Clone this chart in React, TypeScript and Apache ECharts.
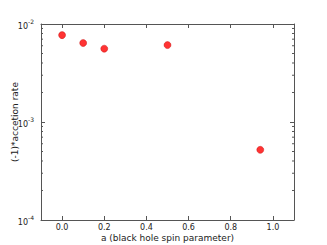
import React, { useEffect, useRef } from "react";
import * as echarts from "echarts";

const spin = [0.0, 0.1, 0.2, 0.5, 0.94];
const rate = [0.0077, 0.0064, 0.0056, 0.0061, 0.00052];
const xTicks = [0.0, 0.2, 0.4, 0.6, 0.8, 1.0];
const minorY = [2e-4, 3e-4, 4e-4, 5e-4, 6e-4, 7e-4, 8e-4, 9e-4, 2e-3, 3e-3, 4e-3, 5e-3, 6e-3, 7e-3, 8e-3, 9e-3];

const XMIN = -0.1;
const XMAX = 1.1;
const FONT = "DejaVu Sans";
const AX = "#555";
const TXT = "#222";

export default function App() {
  const ref = useRef<HTMLDivElement>(null);
  useEffect(() => {
    const chart = echarts.init(ref.current!, null, { renderer: "svg" });
    const lineStyle = { color: AX, width: 1 };
    const yLabel = {
      show: true,
      fontFamily: FONT,
      fontSize: 8,
      color: TXT,
      margin: 7,
      formatter: (v: number) => `{b|10}{s|${Math.round(Math.log10(v))}}`,
      rich: {
        b: { fontFamily: FONT, fontSize: 8, color: TXT, lineHeight: 12, verticalAlign: "bottom" },
        s: { fontFamily: FONT, fontSize: 6, color: TXT, lineHeight: 12, verticalAlign: "top", padding: [0, 0, 3, 0] },
      },
    };
    chart.setOption({
      animation: false,
      grid: { left: 41, right: 33, top: 24, bottom: 25, containLabel: false, outerBoundsMode: "none" },
      xAxis: [
        {
          type: "value",
          min: XMIN,
          max: XMAX,
          name: "a (black hole spin parameter)",
          nameLocation: "middle",
          nameGap: 12,
          nameMoveOverlap: false,
          nameTextStyle: { fontFamily: FONT, fontSize: 9, lineHeight: 11, color: TXT },
          axisLine: { show: true, onZero: false, lineStyle },
          axisTick: { show: true, inside: true, length: 4, lineStyle, customValues: xTicks },
          axisLabel: {
            show: true,
            fontFamily: FONT,
            fontSize: 8,
            lineHeight: 9,
            color: TXT,
            margin: 3,
            customValues: xTicks,
            formatter: (v: number) => v.toFixed(1),
          },
          splitLine: { show: false },
        },
        {
          type: "value",
          position: "top",
          min: XMIN,
          max: XMAX,
          axisLine: { show: true, onZero: false, lineStyle },
          axisTick: { show: true, inside: true, length: 4, lineStyle, customValues: xTicks },
          axisLabel: { show: false },
          splitLine: { show: false },
        },
      ],
      yAxis: [
        {
          type: "log",
          logBase: 10,
          min: 1e-4,
          max: 1e-2,
          name: "(-1)*accetion rate",
          nameLocation: "middle",
          nameGap: 22,
          nameMoveOverlap: false,
          nameTextStyle: { fontFamily: FONT, fontSize: 9, color: TXT },
          axisLine: { show: true, onZero: false, lineStyle },
          axisTick: { show: true, inside: true, length: 4, lineStyle },
          axisLabel: yLabel,
          splitLine: { show: false },
        },
        {
          type: "log",
          logBase: 10,
          min: 1e-4,
          max: 1e-2,
          position: "right",
          axisLine: { show: true, onZero: false, lineStyle },
          axisTick: { show: true, inside: true, length: 4, lineStyle },
          axisLabel: { show: false },
          splitLine: { show: false },
        },
      ],
      series: [
        {
          type: "custom",
          silent: true,
          xAxisIndex: 0,
          yAxisIndex: 0,
          data: minorY.map((v) => [XMIN, v]),
          renderItem: (params: any, api: any) => {
            const v = api.value(1);
            const l = api.coord([XMIN, v]);
            const r = api.coord([XMAX, v]);
            return {
              type: "group",
              children: [
                { type: "line", shape: { x1: l[0], y1: l[1], x2: l[0] + 2, y2: l[1] }, style: { stroke: AX, lineWidth: 1 } },
                { type: "line", shape: { x1: r[0] - 2, y1: r[1], x2: r[0], y2: r[1] }, style: { stroke: AX, lineWidth: 1 } },
              ],
            };
          },
        },
        {
          type: "scatter",
          xAxisIndex: 0,
          yAxisIndex: 0,
          symbol: "circle",
          symbolSize: 7,
          itemStyle: { color: "#ff0000", borderColor: "#c00000", borderWidth: 0.5 },
          data: spin.map((x, i) => [x, rate[i]]),
        },
      ],
    });
    return () => chart.dispose();
  }, []);
  return <div ref={ref} style={{ position: "absolute", left: 0, top: 0, width: 327, height: 245 }} />;
}
